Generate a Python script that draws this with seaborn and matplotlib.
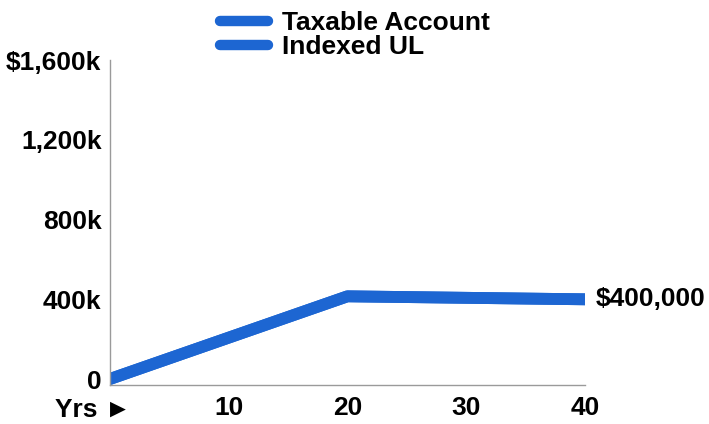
import matplotlib
matplotlib.use("Agg")
import matplotlib.pyplot as plt
import seaborn as sns
import pandas as pd

# Account values over time (both strategies follow the same path)
years = [0, 20, 40]
taxable_account = [0, 415000, 400000]
indexed_ul = [0, 415000, 400000]
series_names = ["Taxable Account", "Indexed UL"]

x_ticks = [10, 20, 30, 40]
y_ticks = [0, 400000, 800000, 1200000, 1600000]
y_tick_labels = ["0", "400k", "800k", "1,200k", "$1,600k"]
end_label = "$400,000"

sns.set_theme(style="white")
plt.rcParams["font.family"] = ["Liberation Sans", "DejaVu Sans"]
plt.rcParams["font.weight"] = "bold"
plt.rcParams["text.color"] = "black"

blue = "#1d66d2"
fs = 19

df = pd.DataFrame({
    "year": years * 2,
    "value": taxable_account + indexed_ul,
    "series": [series_names[0]] * len(years) + [series_names[1]] * len(years),
})

fig = plt.figure(figsize=(7.09, 4.24), dpi=100)
ax = fig.add_axes([0.155, 0.092, 0.67, 0.766])

sns.lineplot(data=df, x="year", y="value", hue="series",
             palette=[blue, blue], linewidth=8.5, legend=False, ax=ax,
             solid_capstyle="round")

ax.set_xlim(0, 40)
ax.set_ylim(-30000, 1600000)
ax.set_xticks(x_ticks)
ax.set_xticklabels([str(t) for t in x_ticks])
ax.set_yticks(y_ticks)
ax.set_yticklabels(y_tick_labels)
ax.tick_params(axis="both", length=0, labelsize=fs, colors="black")
ax.tick_params(axis="x", pad=8)
ax.tick_params(axis="y", pad=6)
for lbl in ax.get_xticklabels() + ax.get_yticklabels():
    lbl.set_fontweight("bold")
ax.set_xlabel("")
ax.set_ylabel("")

for side in ["top", "right"]:
    ax.spines[side].set_visible(False)
for side in ["left", "bottom"]:
    ax.spines[side].set_color("#9a9a9a")
    ax.spines[side].set_linewidth(1.0)

# End-of-line value label
ax.annotate(end_label, xy=(years[-1], taxable_account[-1]), xytext=(8, 0),
            textcoords="offset points", ha="left", va="center",
            fontsize=fs, fontweight="bold", color="black", annotation_clip=False)

# Axis caption below the y labels
ax.annotate("Yrs \u25ba", xy=(0, 0), xycoords="axes fraction",
            xytext=(15, -18), textcoords="offset points",
            ha="right", va="center", fontsize=fs, fontweight="bold",
            color="black", annotation_clip=False)

handles = ax.get_lines()[:2]
leg = fig.legend(handles, series_names, loc="upper left",
                 bbox_to_anchor=(0.288, 1.012), frameon=False,
                 fontsize=fs, handlelength=1.8, handletextpad=0.55,
                 labelspacing=0.0, borderaxespad=0.2)
for h in leg.get_lines():
    h.set_linewidth(7.5)
    h.set_solid_capstyle("round")
for t in leg.get_texts():
    t.set_fontweight("bold")
    t.set_color("black")

fig.savefig("out.png", dpi=100, facecolor="white")
